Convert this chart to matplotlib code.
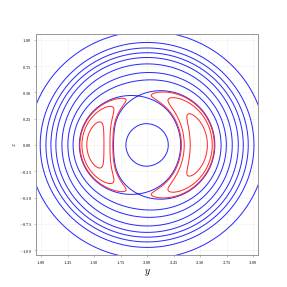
import numpy as np
import matplotlib
matplotlib.use("Agg")
import matplotlib.pyplot as plt

plt.rcParams["font.family"] = "serif"
plt.rcParams["font.serif"] = ["cmr10", "DejaVu Serif"]
plt.rcParams["mathtext.fontset"] = "cm"
plt.rcParams["axes.formatter.use_mathtext"] = True
plt.rcParams["contour.negative_linestyle"] = "solid"

# ---- data ----
x_ticks = [1.00, 1.25, 1.50, 1.75, 2.00, 2.25, 2.50, 2.75, 3.00]
z_ticks = [-1.00, -0.75, -0.50, -0.25, 0.00, 0.25, 0.50, 0.75, 1.00]
x_limits = [0.95, 3.05]
z_limits = [-1.05, 1.05]
# where each blue contour crosses the z = 0 axis
blue_inner_cross = [1.80]
blue_ring_cross = [1.252, 1.196, 1.139, 1.092, 1.045, 0.991, 0.88]
# red contours: depth below the separatrix, as a fraction of the lobe depth
red_depth_frac = [0.065, 0.30, 0.72]

# field parameters (shape of the flux function)
xc, q, r0 = 2.0, 0.965, 0.49
c_warp = -0.177
d_amp, m_out, m_in, a_in = 0.0112, 0.29, 0.23, 0.1925


def psi(x, z):
    dx = x - xc
    dz = z / q
    r = np.hypot(dx, dz)
    th = np.arctan2(dz, dx)
    tau = th + c_warp * np.sin(th)
    H = np.cos(2 * tau)
    dl = r - r0
    F = np.where(dl > 0, dl ** 2, a_in ** 2 * (1 - np.exp(-dl ** 2 / a_in ** 2)))
    M = np.where(dl > 0, np.exp(-(dl / m_out) ** 8), np.exp(-(np.abs(dl) / m_in) ** 6))
    return F - d_amp * H * M


X, Z = np.meshgrid(np.linspace(x_limits[0], x_limits[1], 800),
                   np.linspace(z_limits[0], z_limits[1], 800))
P = psi(X, Z)

# saddle (X-point) value: max over angle of min over radius, upper half
th_s = np.radians(np.linspace(60, 140, 400))
r_s = np.linspace(0.3, 0.7, 800)
TH, RR = np.meshgrid(th_s, r_s)
Ps = psi(xc + RR * np.cos(TH), q * RR * np.sin(TH))
psi_x = Ps.min(axis=0).max()
psi_min = P.min()

blue_levels = sorted(set([float(psi(np.array(v), 0.0)) for v in blue_inner_cross + blue_ring_cross] + [psi_x]))
red_levels = sorted(psi_x - f * (psi_x - psi_min) for f in red_depth_frac)

fig = plt.figure(figsize=(287 / 72, 287 / 72), dpi=72)
ax = fig.add_subplot(111)

ax.contour(X, Z, P, levels=blue_levels, colors="#2a2aff", linewidths=1.0)
ax.contour(X, Z, P, levels=red_levels, colors="#ff2a2a", linewidths=1.0)

ax.set_xlim(*x_limits)
ax.set_ylim(*z_limits)
ax.set_xticks(x_ticks)
ax.set_yticks(z_ticks)
ax.tick_params(labelsize=4.5, length=2, width=0.6, color="#999999", pad=2)
ax.grid(True, color="#dddddd", linestyle=(0, (2, 2)), linewidth=0.5)
ax.set_axisbelow(True)
for s in ax.spines.values():
    s.set_color("#999999")
    s.set_linewidth(1.0)
ax.set_xlabel("$y$", fontsize=10, labelpad=1)
ax.set_ylabel("$z$", fontsize=6, labelpad=1)

fig.savefig("out.png", dpi=72)
